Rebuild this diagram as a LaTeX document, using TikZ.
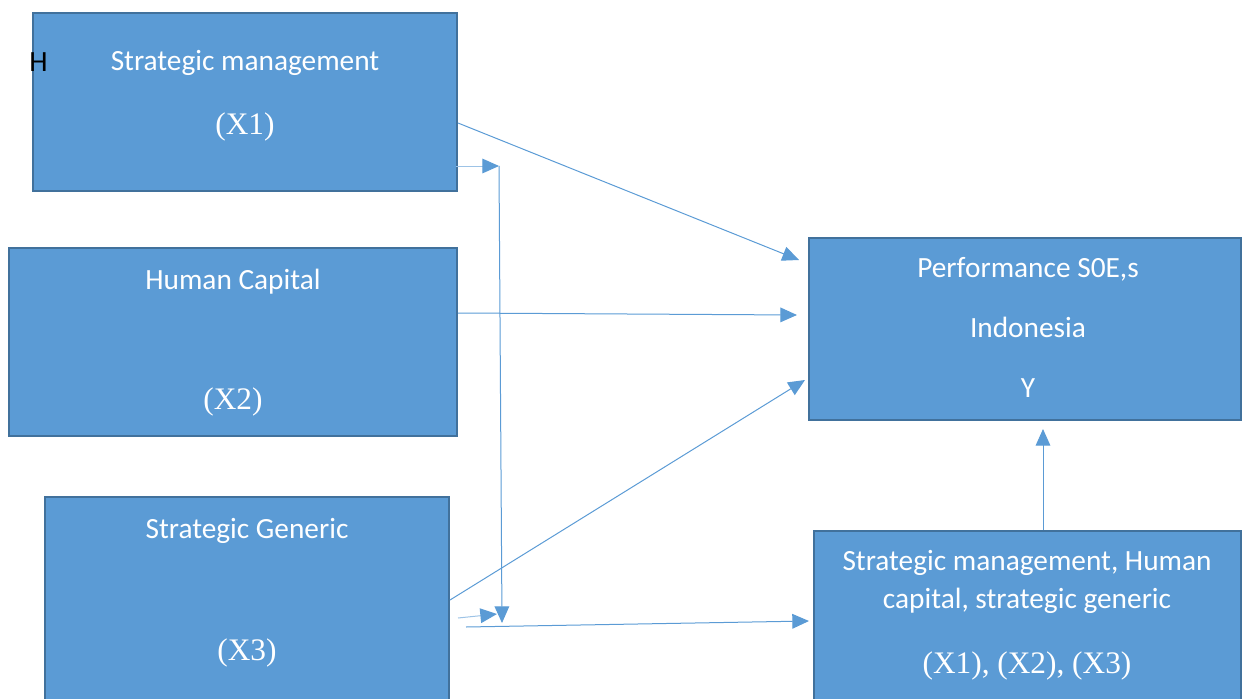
\documentclass[tikz,border=0pt]{standalone}
\usepackage{fontspec}
\setmainfont{Liberation Serif}
\newfontfamily\calibri{Carlito}
\usetikzlibrary{arrows.meta,calc}
\definecolor{boxfill}{RGB}{91,155,213}
\definecolor{boxline}{RGB}{65,113,156}
\definecolor{arrowblue}{RGB}{91,155,213}
\definecolor{paleblue}{RGB}{157,195,230}
\tikzset{
  varbox/.style={draw=boxline, fill=boxfill, line width=1.5pt, rectangle, inner sep=0pt},
  sanslbl/.style={anchor=base, inner sep=0pt, text=white, font=\calibri\fontsize{22}{26}\selectfont},
  seriflbl/.style={anchor=base, inner sep=0pt, text=white, font=\fontsize{23.5}{28}\selectfont},
  link/.style={draw=arrowblue, line width=0.75pt, -{Triangle[length=12.5pt,width=11pt]}},
}
\begin{document}
\begin{tikzpicture}[x=0.75pt,y=0.75pt,yscale=-1,xscale=1]
\useasboundingbox (0,0) rectangle (1242,699);
\clip (0,0) rectangle (1242,699);
%Shape: Rectangle [id:sm] 
\node (sm) [varbox, minimum width=318pt, minimum height=133.5pt] at (245,102) {};
%Shape: Rectangle [id:hc] 
\node (hc) [varbox, minimum width=336pt, minimum height=141pt] at (233,342) {};
%Shape: Rectangle [id:sg] 
\node (sg) [varbox, minimum width=303pt, minimum height=155.25pt] at (247,600.5) {};
%Shape: Rectangle [id:perf] 
\node (perf) [varbox, minimum width=324pt, minimum height=136.5pt] at (1025,329) {};
%Shape: Rectangle [id:mix] 
\node (mix) [varbox, minimum width=320.25pt, minimum height=129.75pt] at (1027.5,617.5) {};

% Text Node
\node (hmark) [anchor=base west, inner sep=0pt, font=\calibri\fontsize{22}{26}\selectfont] at (29,72) {H};
% Text Node
\node (smtxt) [sanslbl] at (245,71) {Strategic management};
% Text Node
\node (smvar) [seriflbl] at (245,134) {(X1)};
% Text Node
\node (hctxt) [sanslbl] at (233,289) {Human Capital};
% Text Node
\node (hcvar) [seriflbl] at (233,409) {(X2)};
% Text Node
\node (sgtxt) [sanslbl] at (247,538) {Strategic Generic};
% Text Node
\node (sgvar) [seriflbl] at (247,660) {(X3)};
% Text Node
\node (perftxt) [sanslbl] at (1028,277) {Performance S0E,s};
% Text Node
\node (perfloc) [sanslbl] at (1028,337) {Indonesia};
% Text Node
\node (perfvar) [sanslbl] at (1028,397) {Y};
% Text Node
\node (mixtxta) [sanslbl] at (1027,570) {Strategic management, Human};
% Text Node
\node (mixtxtb) [sanslbl] at (1027,608) {capital, strategic generic};
% Text Node
\node (mixvar) [seriflbl] at (1027,673) {(X1), (X2), (X3)};

% free ends of the moderating path
\coordinate (vtop) at (499,166);
\coordinate (vbot) at (502,623);
\coordinate (mstart) at (466,627);
\coordinate (sgtick) at (458,618);

%Straight Lines [id:sm-perf] 
\draw [link] ($(sm.east)+(0,21)$) -- ($(perf.west)+(-9,-69)$);
%Straight Lines [id:hc-perf] 
\draw [link] ($(hc.east)+(0,-29)$) -- ($(perf.west)+(-11,-14)$);
%Straight Lines [id:sg-perf] 
\draw [link] ($(sg.east)+(0,-0.5)$) -- ($(perf.west)+(-3,51)$);
%Straight Lines [id:mix-perf] 
\draw [link] ($(mix.north)+(15.5,0)$) -- ($(perf.south)+(18,8)$);
%Straight Lines [id:sm-tick] 
\draw [link, draw=paleblue, -{Triangle[length=12.5pt,width=11pt,color=arrowblue]}] ($(sm.south east)+(-2,-26)$) -- (vtop);
%Straight Lines [id:vertical] 
\draw [link] (vtop) -- (vbot);
%Straight Lines [id:sg-tick] 
\draw [link, draw=paleblue, -{Triangle[length=12.5pt,width=11pt,color=arrowblue]}] (sgtick) -- ($(vbot)+(-5,-9)$);
%Straight Lines [id:m-mix] 
\draw [link] (mstart) -- ($(mix.west)+(-4,3.5)$);
\end{tikzpicture}
\end{document}
